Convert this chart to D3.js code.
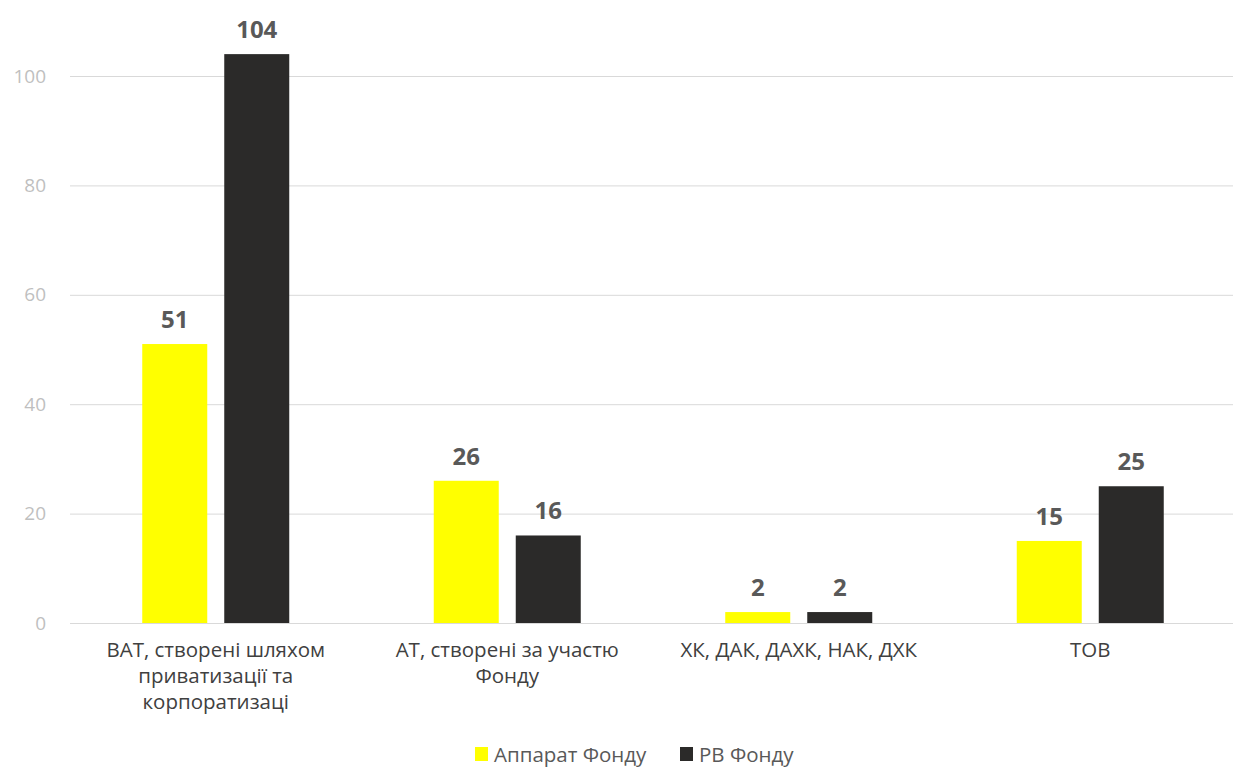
<!DOCTYPE html>
<html>
<head>
<meta charset="utf-8">
<script src="https://cdn.jsdelivr.net/npm/d3@7"></script>
<style>
  body { margin: 0; background: #fff; overflow: hidden; }
  svg { display: block; }
  text { font-family: "Open Sans", sans-serif; }
</style>
</head>
<body>
<svg></svg>
<script>
const width = 1233;
const height = 767;

const categories = [
  ["ВАТ, створені шляхом", "приватизації та", "корпоратизаці"],
  ["АТ, створені за участю", "Фонду"],
  ["ХК, ДАК, ДАХК, НАК, ДХК"],
  ["ТОВ"]
];
const seriesNames = ["Аппарат Фонду", "РВ Фонду"];
const aparat = [51, 26, 2, 15];
const rv = [104, 16, 2, 25];
const yTicks = [0, 20, 40, 60, 80, 100];
const colors = ["#ffff00", "#2b2a29"];

const margin = {top: 76, right: -3, bottom: 144, left: 70};
const svg = d3.select('svg').attr('width', width).attr('height', height);

const y = d3.scaleLinear().domain([0, 100])
    .range([height - margin.bottom, margin.top]);
const x = d3.scaleBand().domain(d3.range(categories.length))
    .range([margin.left, width - margin.right]);

// gridlines
svg.append('g').selectAll('line')
    .data(yTicks).enter().append('line')
    .attr('x1', margin.left).attr('x2', width)
    .attr('y1', d => y(d) + 0.5).attr('y2', d => y(d) + 0.5)
    .style('stroke', '#d9d9d9').style('stroke-width', 1);

// y tick labels
const yAxis = svg.append('g')
    .attr('transform', `translate(${margin.left - 24},0)`)
    .call(d3.axisLeft(y).tickValues(yTicks).tickSize(0).tickPadding(0));
yAxis.select('.domain').remove();
yAxis.selectAll('text')
    .style('font-size', '19px').style('fill', '#bfbfbf')
    .style('font-family', '"Open Sans", sans-serif');

const barW = 65, gap = 17;
const series = [aparat, rv];
series.forEach((vals, s) => {
  const g = svg.append('g');
  const off = s === 0 ? -(gap / 2 + barW) : gap / 2;
  g.selectAll('rect').data(vals).enter().append('rect')
      .attr('x', (d, i) => x(i) + x.bandwidth() / 2 + off)
      .attr('y', d => y(d))
      .attr('width', barW)
      .attr('height', d => y(0) - y(d))
      .style('fill', colors[s]);
  g.selectAll('text').data(vals).enter().append('text')
      .attr('x', (d, i) => x(i) + x.bandwidth() / 2 + off + barW / 2)
      .attr('y', d => y(d) - 16)
      .attr('text-anchor', 'middle')
      .style('font-size', '24px').style('font-weight', 'bold')
      .style('fill', '#595959')
      .text(d => d);
});

// category labels
const cat = svg.append('g').selectAll('text')
    .data(categories).enter().append('text')
    .attr('text-anchor', 'middle')
    .attr('x', (d, i) => x(i) + x.bandwidth() / 2)
    .attr('y', y(0) + 34)
    .style('font-size', '20.5px').style('fill', '#404040');
cat.selectAll('tspan').data(d => d).enter().append('tspan')
    .attr('x', function() { return this.parentNode.getAttribute('x'); })
    .attr('dy', (d, i) => i === 0 ? 0 : 26)
    .text(d => d);

// legend
const legendX = [475, 680];
const legend = svg.append('g');
seriesNames.forEach((name, i) => {
  legend.append('rect')
      .attr('x', legendX[i]).attr('y', 747)
      .attr('width', 13).attr('height', 14)
      .style('fill', colors[i]);
  legend.append('text')
      .attr('x', legendX[i] + 19).attr('y', 762)
      .style('font-size', '20.5px').style('fill', '#595959')
      .text(name);
});
</script>
</body>
</html>
